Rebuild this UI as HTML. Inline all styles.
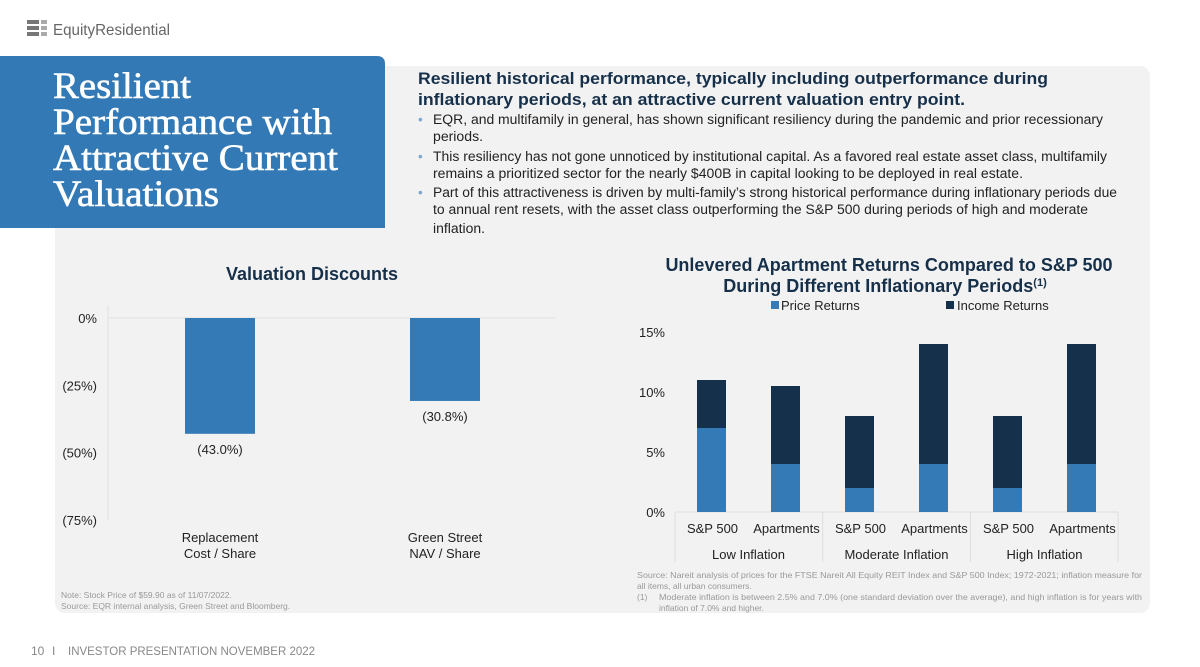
<!DOCTYPE html>
<html><head><meta charset="utf-8"><style>
body{margin:0;width:1200px;height:667px;background:#fff;overflow:hidden;font-family:"Liberation Sans",sans-serif}
svg{display:block}
</style></head><body>
<svg id="s" width="1200" height="667" viewBox="0 0 1200 667" xmlns="http://www.w3.org/2000/svg" font-family="Liberation Sans, sans-serif">
<rect x="55" y="66" width="1095" height="547" rx="10" fill="#f2f2f2"/>
<g>
<rect x="27" y="20" width="12" height="4" fill="#777"/><rect x="27" y="26" width="12" height="4" fill="#777"/><rect x="27" y="32" width="12" height="4" fill="#777"/>
<rect x="41" y="20" width="6" height="4" fill="#aaa"/><rect x="41" y="26" width="6" height="4" fill="#aaa"/><rect x="41" y="32" width="6" height="4" fill="#aaa"/>
<text x="53" y="35" font-size="16" fill="#666" textLength="117" lengthAdjust="spacingAndGlyphs">EquityResidential</text>
</g>
<path d="M0 56 H377 Q385 56 385 64 V228 H0 Z" fill="#3379b5"/>
<g font-family="Liberation Serif, serif" font-size="37" fill="#fff" stroke="#fff" stroke-width="0.6">
<text x="53" y="98" textLength="138" lengthAdjust="spacingAndGlyphs">Resilient</text>
<text x="53" y="134" textLength="279" lengthAdjust="spacingAndGlyphs">Performance with</text>
<text x="53" y="170" textLength="285" lengthAdjust="spacingAndGlyphs">Attractive Current</text>
<text x="53" y="206" textLength="166" lengthAdjust="spacingAndGlyphs">Valuations</text>
</g>
<g fill="#1a2b3c">
<text x="418" y="84" font-size="17" font-weight="bold" fill="#17304a" textLength="630" lengthAdjust="spacingAndGlyphs">Resilient historical performance, typically including outperformance during</text>
<text x="418" y="105" font-size="17" font-weight="bold" fill="#17304a" textLength="547" lengthAdjust="spacingAndGlyphs">inflationary periods, at an attractive current valuation entry point.</text>
<g font-size="13.5" fill="#222">
<text x="418" y="124" fill="#7fa8cf">•</text><text x="433" y="124" textLength="670" lengthAdjust="spacingAndGlyphs">EQR, and multifamily in general, has shown significant resiliency during the pandemic and prior recessionary</text>
<text x="433" y="141" textLength="50" lengthAdjust="spacingAndGlyphs">periods.</text>
<text x="418" y="161" fill="#7fa8cf">•</text><text x="433" y="161" textLength="674" lengthAdjust="spacingAndGlyphs">This resiliency has not gone unnoticed by institutional capital. As a favored real estate asset class, multifamily</text>
<text x="433" y="178" textLength="590" lengthAdjust="spacingAndGlyphs">remains a prioritized sector for the nearly $400B in capital looking to be deployed in real estate.</text>
<text x="418" y="197" fill="#7fa8cf">•</text><text x="433" y="197" textLength="684" lengthAdjust="spacingAndGlyphs">Part of this attractiveness is driven by multi-family’s strong historical performance during inflationary periods due</text>
<text x="433" y="214" textLength="655" lengthAdjust="spacingAndGlyphs">to annual rent resets, with the asset class outperforming the S&amp;P 500 during periods of high and moderate</text>
<text x="433" y="233" textLength="52" lengthAdjust="spacingAndGlyphs">inflation.</text>
</g></g>
<text x="312" y="280" font-size="18" font-weight="bold" fill="#17304a" text-anchor="middle">Valuation Discounts</text>
<g id="left"></g>
<g font-size="18" font-weight="bold" fill="#17304a" text-anchor="middle">
<text x="889" y="271">Unlevered Apartment Returns Compared to S&amp;P 500</text>
<text x="885" y="292">During Different Inflationary Periods<tspan font-size="11" dy="-6">(1)</tspan></text>
</g>
<g font-size="13" fill="#222">
<rect x="771" y="301" width="8" height="8" fill="#337ab7"/><text x="781" y="310">Price Returns</text>
<rect x="946" y="301" width="8" height="8" fill="#14304a"/><text x="957" y="310">Income Returns</text>
</g>
<g id="right"></g>
<g font-size="8.5" fill="#999">
<text x="61" y="598">Note: Stock Price of $59.90 as of 11/07/2022.</text>
<text x="61" y="609">Source: EQR internal analysis, Green Street and Bloomberg.</text>
</g>
<g font-size="8.5" fill="#999">
<text x="637" y="578" textLength="505" lengthAdjust="spacingAndGlyphs">Source: Nareit analysis of prices for the FTSE Nareit All Equity REIT Index and S&amp;P 500 Index; 1972-2021; inflation measure for</text>
<text x="637" y="589">all items, all urban consumers.</text>
<text x="637" y="600">(1)</text><text x="659" y="600" textLength="483" lengthAdjust="spacingAndGlyphs">Moderate inflation is between 2.5% and 7.0% (one standard deviation over the average), and high inflation is for years with</text>
<text x="659" y="611">inflation of 7.0% and higher.</text>
</g>
<g font-size="12" fill="#888">
<text x="31" y="655">10</text><text x="52" y="655">I</text><text x="68" y="655" textLength="247" lengthAdjust="spacingAndGlyphs">INVESTOR PRESENTATION NOVEMBER 2022</text>
</g>
</svg>
<script>
const NS='http://www.w3.org/2000/svg';
const leftCats=['Replacement|Cost / Share','Green Street|NAV / Share'];
const leftVals=[-43.0,-30.8];
const leftLabels=['(43.0%)','(30.8%)'];
const leftTicks=[0,-25,-50,-75];
const leftTickLabels=['0%','(25%)','(50%)','(75%)'];

const rightCats=['S&P 500','Apartments','S&P 500','Apartments','S&P 500','Apartments'];
const rightGroups=['Low Inflation','Moderate Inflation','High Inflation'];
const priceReturns=[7,4,2,4,2,4];
const incomeReturns=[4,6.5,6,10,6,10];
const rightTicks=[0,5,10,15];
const rightTickLabels=['0%','5%','10%','15%'];

function mk(p,t,a){const e=document.createElementNS(NS,t);for(const k in a)e.setAttribute(k,a[k]);p.appendChild(e);return e;}
const L=document.getElementById('left');
const ly=v=>318+(-v)*(202/75);
const lx=i=>220+i*225;
mk(L,'line',{x1:108,y1:305,x2:108,y2:520,stroke:'#e0e0e0'});
mk(L,'line',{x1:108,y1:ly(0),x2:556,y2:ly(0),stroke:'#e0e0e0'});
leftTicks.forEach((t,i)=>{const e=mk(L,'text',{x:97,y:ly(t)+5,'font-size':13,fill:'#222','text-anchor':'end'});e.textContent=leftTickLabels[i];

});
leftVals.forEach((v,i)=>{const r=mk(L,'rect',{x:lx(i)-35,y:ly(0),width:70,height:ly(v)-ly(0),fill:'#337ab7'});


const t=mk(L,'text',{x:lx(i),y:ly(v)+20,'font-size':13,fill:'#222','text-anchor':'middle'});t.textContent=leftLabels[i];


leftCats[i].split('|').forEach((s,j)=>{const c=mk(L,'text',{x:lx(i),y:542+j*16,'font-size':13,fill:'#222','text-anchor':'middle'});c.textContent=s;

});});
const R=document.getElementById('right');
const ry=v=>512-v*12;
const rx=i=>711.5+i*74;
mk(R,'line',{x1:675,y1:ry(0),x2:1118,y2:ry(0),stroke:'#ddd'});
[0,1,2,3].forEach(k=>mk(R,'line',{x1:675+k*147.7,y1:ry(0),x2:675+k*147.7,y2:562,stroke:'#ddd'}));
rightTicks.forEach((t,i)=>{const e=mk(R,'text',{x:665,y:ry(t)+5,'font-size':13,fill:'#222','text-anchor':'end'});e.textContent=rightTickLabels[i];

});
rightCats.forEach((c,i)=>{const p=priceReturns[i],q=incomeReturns[i];
const a=mk(R,'rect',{x:rx(i)-14.5,y:ry(p),width:29,height:ry(0)-ry(p),fill:'#337ab7'});


const b=mk(R,'rect',{x:rx(i)-14.5,y:ry(p+q),width:29,height:ry(p)-ry(p+q),fill:'#14304a'});


const t=mk(R,'text',{x:rx(i)+1,y:533,'font-size':13,fill:'#222','text-anchor':'middle'});t.textContent=c;

});
rightGroups.forEach((g,k)=>{const t=mk(R,'text',{x:rx(2*k)+37,y:559,'font-size':13,fill:'#222','text-anchor':'middle'});t.textContent=g;

});
</script>
</body></html>
